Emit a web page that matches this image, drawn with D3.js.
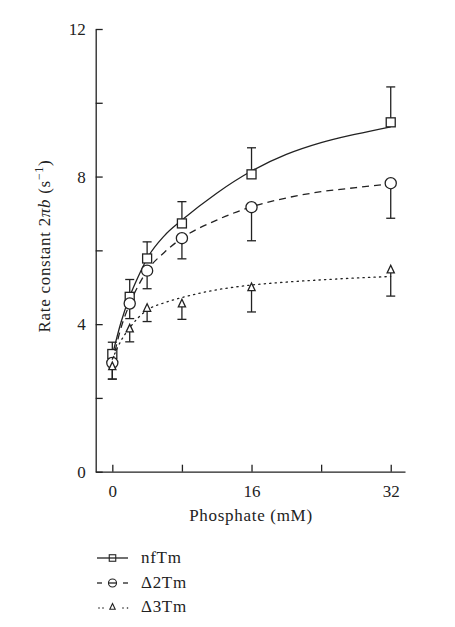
<!DOCTYPE html>
<html><head><meta charset="utf-8">
<script src="https://cdn.jsdelivr.net/npm/d3@7"></script>
<style>body{margin:0;background:#fff}svg{display:block}text{font-family:"Liberation Serif","DejaVu Serif",serif;fill:#222}</style>
</head><body><svg id="c" width="455" height="627"></svg>
<script>
// Data points
const phosphate = [0, 2, 4, 8, 16, 32];
const nfTm = [3.19, 4.74, 5.78, 6.73, 8.06, 9.47];
const nfTmErr = [0.32, 0.47, 0.45, 0.59, 0.72, 0.96];
const d2Tm = [2.95, 4.56, 5.45, 6.33, 7.17, 7.82];
const d2TmErr = [0.44, 0.41, 0.49, 0.56, 0.91, 0.95];
const d3Tm = [2.85, 3.87, 4.43, 4.55, 4.99, 5.47];
const d3TmErr = [0.34, 0.35, 0.36, 0.42, 0.66, 0.71];
// Fitted curves
const fitX = [0, 1, 2, 3, 4, 6, 8, 12, 16, 20, 24, 28, 32];
const nfTmFit = [3.15, 4.05, 4.75, 5.3, 5.78, 6.4, 6.82, 7.55, 8.15, 8.6, 8.92, 9.15, 9.35];
const d2TmFit = [2.95, 3.9, 4.55, 5.05, 5.45, 5.95, 6.33, 6.82, 7.18, 7.42, 7.59, 7.7, 7.8];
const d3TmFit = [3.05, 3.55, 3.9, 4.18, 4.38, 4.58, 4.72, 4.93, 5.06, 5.14, 5.2, 5.25, 5.29];
const xTicks = [0, 8, 16, 24, 32];
const xTickLabels = ["0", "", "16", "", "32"];
const yTicks = [0, 2, 4, 6, 8, 10, 12];
const yTickLabels = ["0", "", "4", "", "8", "", "12"];
const seriesNames = ["nfTm", "\u03942Tm", "\u03943Tm"];

const svg = d3.select("#c");
const x = d3.scaleLinear().domain([-1.91, 33.64]).range([95.7, 405]);
const y = d3.scaleLinear().domain([0, 12]).range([471.7, 29]);
const ink = "#222";
const FS = 17, LS = "0.7px";

// axes
const xAxis = d3.axisBottom(x).tickValues(xTicks).tickSizeInner(-7).tickSizeOuter(0)
  .tickPadding(13).tickFormat((d, i) => xTickLabels[i]);
const gx = svg.append("g").attr("transform", `translate(0,${y(0)})`).call(xAxis);
const yAxis = d3.axisLeft(y).tickValues(yTicks).tickSizeInner(-7).tickSizeOuter(0)
  .tickPadding(10).tickFormat((d, i) => yTickLabels[i]);
const gy = svg.append("g").attr("transform", `translate(${x.range()[0]},0)`).call(yAxis);
[gx, gy].forEach(g => {
  g.select(".domain").attr("stroke", ink).attr("stroke-width", 1.3);
  g.selectAll(".tick line").attr("stroke", ink).attr("stroke-width", 1.3);
  g.selectAll("text").attr("font-size", FS).attr("font-family", "Liberation Serif, serif").attr("fill", ink);
});

// axis titles
svg.append("text").attr("x", 251).attr("y", 521).attr("text-anchor", "middle")
  .attr("font-size", FS).attr("letter-spacing", LS).text("Phosphate (mM)");
const yl = svg.append("text").attr("transform", "translate(50,246) rotate(-90)")
  .attr("text-anchor", "middle").attr("font-size", FS).attr("letter-spacing", LS);
yl.append("tspan").text("Rate constant 2");
yl.append("tspan").attr("font-style", "italic").text("\u03c0b");
yl.append("tspan").text(" (s");
yl.append("tspan").attr("font-size", 12).attr("dy", -7).text("\u22121");
yl.append("tspan").attr("dy", 7).text(")");

const styles = [
  {dash: null, vals: nfTm, err: nfTmErr, fit: nfTmFit, dir: 1, mk: "square"},
  {dash: "7,5", vals: d2Tm, err: d2TmErr, fit: d2TmFit, dir: -1, mk: "circle"},
  {dash: "1.3,4.2", vals: d3Tm, err: d3TmErr, fit: d3TmFit, dir: -1, mk: "triangle"}
];

const line = d3.line().x(d => x(d[0])).y(d => y(d[1])).curve(d3.curveMonotoneX);

function marker(g, mk, cx, cy, s) {
  if (mk === "square") g.append("rect").attr("x", cx - s / 2).attr("y", cy - s / 2).attr("width", s).attr("height", s);
  else if (mk === "circle") g.append("circle").attr("cx", cx).attr("cy", cy).attr("r", s * 0.62);
  else {
    const h = s * 0.95;
    g.append("path").attr("d", `M${cx},${cy - h * 0.6}L${cx + s * 0.45},${cy + h * 0.4}L${cx - s * 0.45},${cy + h * 0.4}Z`);
  }
}

styles.forEach(st => {
  svg.append("path").datum(fitX.map((v, i) => [v, st.fit[i]]))
    .attr("d", line).attr("fill", "none").attr("stroke", ink).attr("stroke-width", 1.3)
    .attr("stroke-dasharray", st.dash)
    .attr("stroke-linecap", st.dash && st.dash.startsWith("1.3") ? "round" : "butt");
  const g = svg.append("g").attr("fill", "#fff").attr("stroke", ink).attr("stroke-width", 1.3);
  phosphate.forEach((p, i) => {
    const cx = x(p), cy = y(st.vals[i]), ey = y(st.vals[i] + st.dir * st.err[i]);
    g.append("line").attr("x1", cx).attr("x2", cx).attr("y1", cy).attr("y2", ey);
    g.append("line").attr("x1", cx - 4.5).attr("x2", cx + 4.5).attr("y1", ey).attr("y2", ey);
    marker(g, st.mk, cx, cy, st.mk === "triangle" ? 8 : 9);
  });
});

// legend
const legY = [563, 588, 612];
styles.forEach((st, i) => {
  const g = svg.append("g");
  const ly = legY[i] - 5;
  if (i === 0) g.append("line").attr("x1", 97).attr("x2", 128).attr("y1", ly).attr("y2", ly);
  else if (i === 1) {
    g.append("line").attr("x1", 97).attr("x2", 102).attr("y1", ly).attr("y2", ly);
    g.append("line").attr("x1", 123).attr("x2", 128).attr("y1", ly).attr("y2", ly);
    g.append("line").attr("x1", 108.5).attr("x2", 116.5).attr("y1", ly).attr("y2", ly);
  } else {
    [99, 103, 123, 127.5].forEach(px => g.append("circle").attr("cx", px).attr("cy", ly + 1).attr("r", 0.8).attr("fill", ink));
  }
  g.selectAll("line").attr("stroke", ink).attr("stroke-width", 1.3);
  const mg = g.append("g").attr("fill", "none").attr("stroke", ink).attr("stroke-width", 1.1);
  marker(mg, st.mk, 112.5, ly, st.mk === "triangle" ? 6 : 6.5);
  g.append("text").attr("x", 141).attr("y", legY[i]).attr("font-size", FS).attr("letter-spacing", LS).text(seriesNames[i]);
});
</script></body></html>
